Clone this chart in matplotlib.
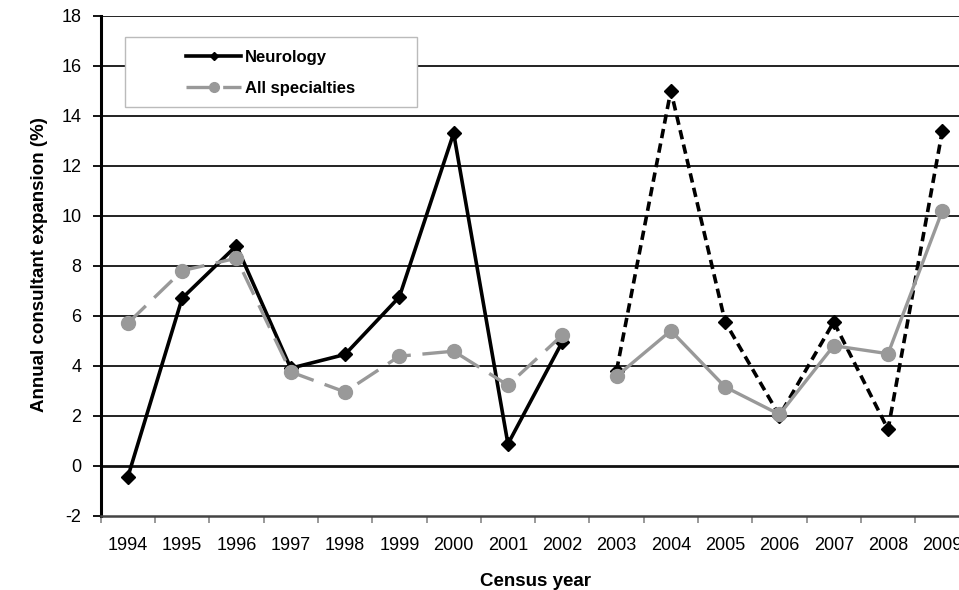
import numpy as np
import matplotlib
matplotlib.use("Agg")
import matplotlib.pyplot as plt
from matplotlib.patches import Rectangle
from matplotlib.lines import Line2D

plt.rcParams['font.family'] = ['Liberation Sans', 'DejaVu Sans']
plt.rcParams['axes.unicode_minus'] = False

years = ['1994', '1995', '1996', '1997', '1998', '1999', '2000', '2001',
         '2002', '2003', '2004', '2005', '2006', '2007', '2008', '2009']
neurology = [-0.45, 6.7, 8.8, 3.9, 4.45, 6.75, 13.3, 0.87, 4.95,
             3.8, 15.0, 5.75, 2.0, 5.75, 1.45, 13.4]
all_spec = [5.7, 7.8, 8.3, 3.75, 2.95, 4.38, 4.58, 3.22, 5.22,
            3.58, 5.4, 3.15, 2.05, 4.8, 4.48, 10.2]
split = 9  # first 9 years (1994-2002) in first segment

W, H = 959, 590
fig = plt.figure(figsize=(W / 100, H / 100), dpi=100)
ax = fig.add_axes([100.7 / W, 1 - 515.7 / H, 868.8 / W, 500 / H])

x = np.arange(len(years))
black = '#000000'
gray = '#999999'

# grid lines
for v in range(0, 19, 2):
    ax.axhline(v, color='#111111', lw=2.0 if v == 0 else 1.3, zorder=1)

# Neurology
ax.plot(x[:split], neurology[:split], color=black, lw=2.6, marker='D', ms=7.5,
        solid_joinstyle='miter', zorder=3, label='Neurology')
ax.plot(x[split:], neurology[split:], color=black, lw=2.6, marker='D', ms=7.5,
        linestyle=(0, (2.6, 1.5)), zorder=3)
# All specialties
ax.plot(x[:split], all_spec[:split], color=gray, lw=2.4, marker='o', ms=10,
        linestyle=(0, (7.5, 3.5)), zorder=4, label='All specialties')
ax.plot(x[split:], all_spec[split:], color=gray, lw=2.4, marker='o', ms=10,
        zorder=4)

ax.set_xlim(-0.5, len(years) - 0.5)
ax.set_ylim(-2, 18)
ax.set_yticks(range(-2, 19, 2))
ax.set_xticks(x)
ax.set_xticklabels(years)
ax.set_xticks(np.arange(-0.5, len(years), 1.0), minor=True)
ax.tick_params(axis='x', which='major', length=0, labelsize=13, pad=15)
ax.tick_params(axis='x', which='minor', length=5, width=1.2, color='#888888')
ax.tick_params(axis='y', length=6, width=1.3, labelsize=13, pad=8)

for s in ['top', 'right']:
    ax.spines[s].set_visible(False)
ax.spines['left'].set_linewidth(2.2)
ax.spines['bottom'].set_linewidth(1.8)
ax.spines['bottom'].set_color('#444444')

ax.set_xlabel('Census year', fontsize=13.5, fontweight='bold', labelpad=14)
fig.text(40 / W, 1 - 265 / H, 'Annual consultant expansion (%)', rotation=90,
         fontsize=13.5, fontweight='bold', ha='center', va='center')

# legend box
rect = Rectangle((125 / W, 1 - 107 / H), (417 - 125) / W, (107 - 37) / H,
                 transform=fig.transFigure, facecolor='white',
                 edgecolor='#bbbbbb', lw=1.0, zorder=5)
fig.patches.append(rect)
h1 = Line2D([], [], color=black, lw=2.6, marker='D', ms=4)
h2 = Line2D([], [], color=gray, lw=2.4, marker='o', ms=7, linestyle=(0, (7.5, 3.5)))
leg = fig.legend([h1, h2], ['Neurology', 'All specialties'], loc='center left',
                 bbox_to_anchor=(186 / W, 1 - 73 / H), frameon=False,
                 borderpad=0, borderaxespad=0, handlelength=3.3,
                 handletextpad=0.25, labelspacing=1.0,
                 prop={'size': 12, 'weight': 'bold'})
leg.set_zorder(6)

fig.savefig('out.png', dpi=100)
